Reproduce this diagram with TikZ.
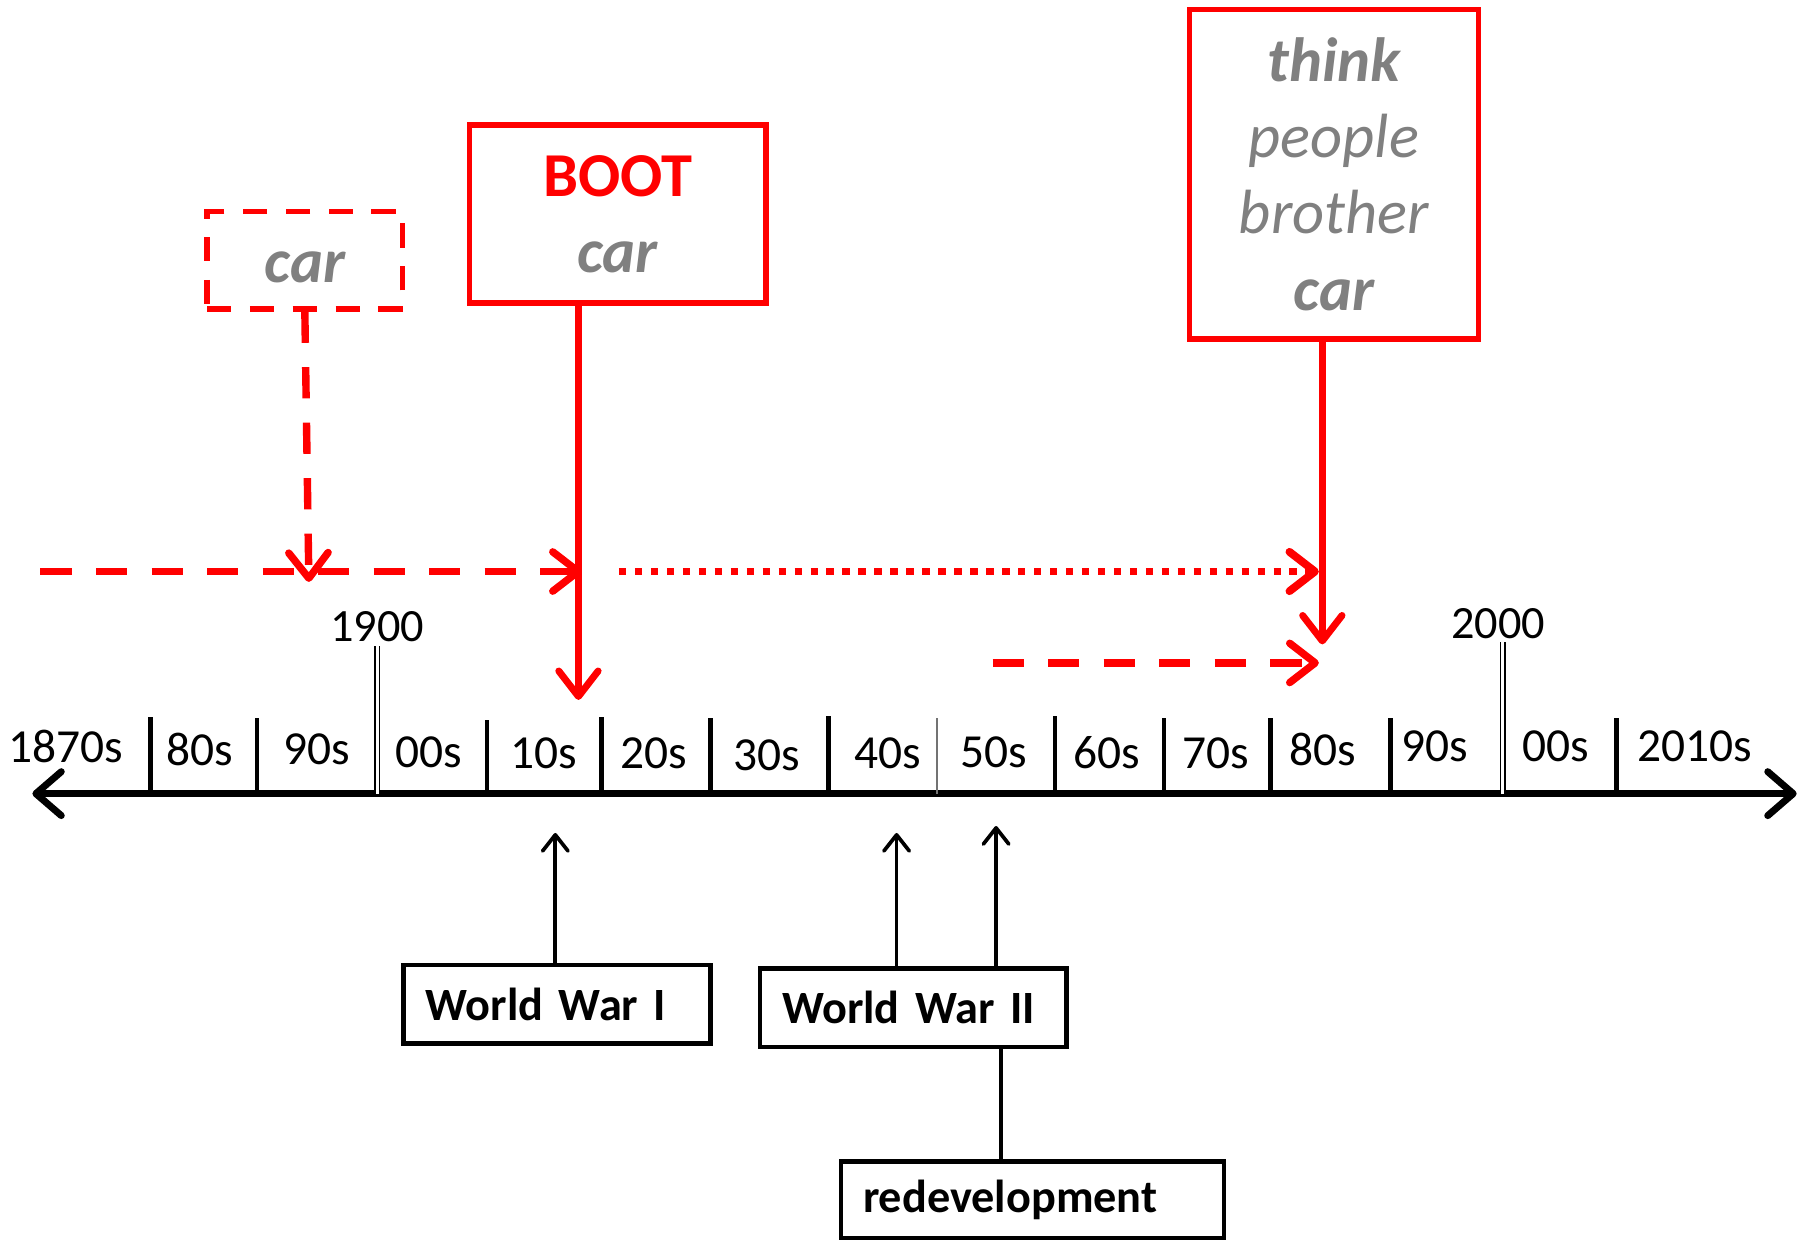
\documentclass[tikz,border=0pt]{standalone}
\usepackage{fontspec}
\setmainfont{Carlito}
\usetikzlibrary{arrows.meta}

\definecolor{wordred}{RGB}{255,0,0}
\definecolor{wordgray}{RGB}{128,128,128}

\begin{document}
\begin{tikzpicture}[x=0.5pt,y=-0.5pt]

\tikzset{axislabel/.style  = {font=\fontsize{20.5}{24}\selectfont, inner sep=0pt},
         yearlabel/.style  = {font=\fontsize{20}{24}\selectfont, inner sep=0pt},
         axisline/.style   = {line width=3pt,
                              {Straight Barb[length=11pt,width=19pt,round]}-{Straight Barb[length=11pt,width=19pt,round]}},
         tickline/.style   = {line width=2pt},
         yearline/.style   = {double, double distance=1.3pt, line width=0.7pt},
         wordbox/.style    = {draw=wordred, line width=2.3pt, align=center, inner sep=0pt,
                              text=wordgray, font=\fontsize{27}{33}\selectfont},
         eventbox/.style   = {draw, line width=2pt, align=left, inner xsep=9.5pt, inner ysep=0pt,
                              font=\bfseries\fontsize{20}{24}\selectfont},
         redtip/.style     = {-{Straight Barb[length=11pt,width=17pt,round]}},
         redsolid/.style   = {draw=wordred, line width=3pt, redtip},
         reddashed/.style  = {draw=wordred, line width=3.2pt, redtip, dash pattern=on 13.5pt off 10.5pt},
         reddotted/.style  = {draw=wordred, line width=3.4pt, redtip, dash pattern=on 3.2pt off 3.7pt},
         eventarrow/.style = {line width=1.6pt, -{Straight Barb[length=7pt,width=11pt,round]}}}

\useasboundingbox (0,0) rectangle (1568,1073);

%%% time axis with decades
\coordinate (axisL) at (28,686);
\coordinate (axisR) at (1553,686);
\draw[axisline] (axisL) -- (axisR);

\foreach \x/\top in {130/620,222/621,421/622,520/620,614/621,716/619,
                     912/619,1006/621,1098/621,1202/621,1397/621}
  \draw[tickline] (\x,686) -- (\x,\top);
\draw[line width=1.2pt, black!55] (810,686) -- (810,621);
\draw[yearline] (326,686) -- (326,558);
\draw[yearline] (1299,686) -- (1299,555);

\foreach \x/\y/\t [count=\i] in {57/645/1870s, 173/648/80s, 274/648/90s, 371/650/00s,
                                 470/651/10s, 565/651/20s, 663/653/30s, 767/651/40s,
                                 859/650/50s, 957/651/60s, 1051/651/70s, 1143/648/80s,
                                 1240/645/90s, 1345/645/00s, 1465/645/2010s}
  \node[axislabel] (dec\i) at (\x,\y) {\t};

\node[yearlabel] (y1900) at (326,542) {1900};
\node[yearlabel] (y2000) at (1295,539) {2000};

%%% word boxes
\node[wordbox, dash pattern=on 10.5pt off 8pt, minimum width=84.5pt, minimum height=42pt]
  (oldcar) at (263.5,225) {\raisebox{-3pt}[\height][0pt]{\bfseries\itshape car}};
\node[wordbox, minimum width=128pt, minimum height=77pt]
  (boot) at (534,185) {{\bfseries\color{wordred}BOOT}\\ \bfseries\itshape car};
\node[wordbox, minimum width=125pt, minimum height=142.5pt]
  (think) at (1153,150.5) {{\bfseries\itshape think}\\ {\itshape people}\\ {\itshape brother}\\ \bfseries\itshape car};

\coordinate (oldhit)    at (267,503);
\coordinate (dashA)     at (35,494);
\coordinate (bootmeet)  at (503,494);
\coordinate (bootdown)  at (500,605);
\coordinate (dotA)      at (535,494);
\coordinate (thinkmeet) at (1140,494);
\coordinate (thinkdown) at (1143,557);
\coordinate (dashB)     at (858,573);
\coordinate (dashBend)  at (1140,573);

\draw[reddashed] (oldcar.south) -- (oldhit);
\draw[reddashed] (dashA) -- (bootmeet);
\draw[redsolid] (boot.south -| bootdown) -- (bootdown);
\draw[reddotted] (dotA) -- (thinkmeet);
\draw[redsolid] (think.south -| thinkdown) -- (thinkdown);
\draw[reddashed] (dashB) -- (dashBend);

%%% events below the axis
\node[eventbox, text width=113.5pt, minimum height=34pt] (ww1) at (481.5,868) {World War I};
\node[eventbox, text width=113.5pt, minimum height=34pt] (ww2) at (789.5,871) {World War II};
\node[eventbox, text width=146.5pt, minimum height=33pt] (redev) at (892.5,1037) {redevelopment};

\coordinate (ww1up)     at (480,720);
\coordinate (ww2up)     at (775,720);
\coordinate (redevup)   at (861,714);
\coordinate (redevlink) at (865,1004);

\draw[eventarrow] (ww1.north -| ww1up) -- (ww1up);
\draw[eventarrow] (ww2.north -| ww2up) -- (ww2up);
\draw[eventarrow] (ww2.north -| redevup) -- (redevup);
\draw[line width=1.6pt] (ww2.south -| redevlink) -- (redev.north -| redevlink);

\end{tikzpicture}
\end{document}
